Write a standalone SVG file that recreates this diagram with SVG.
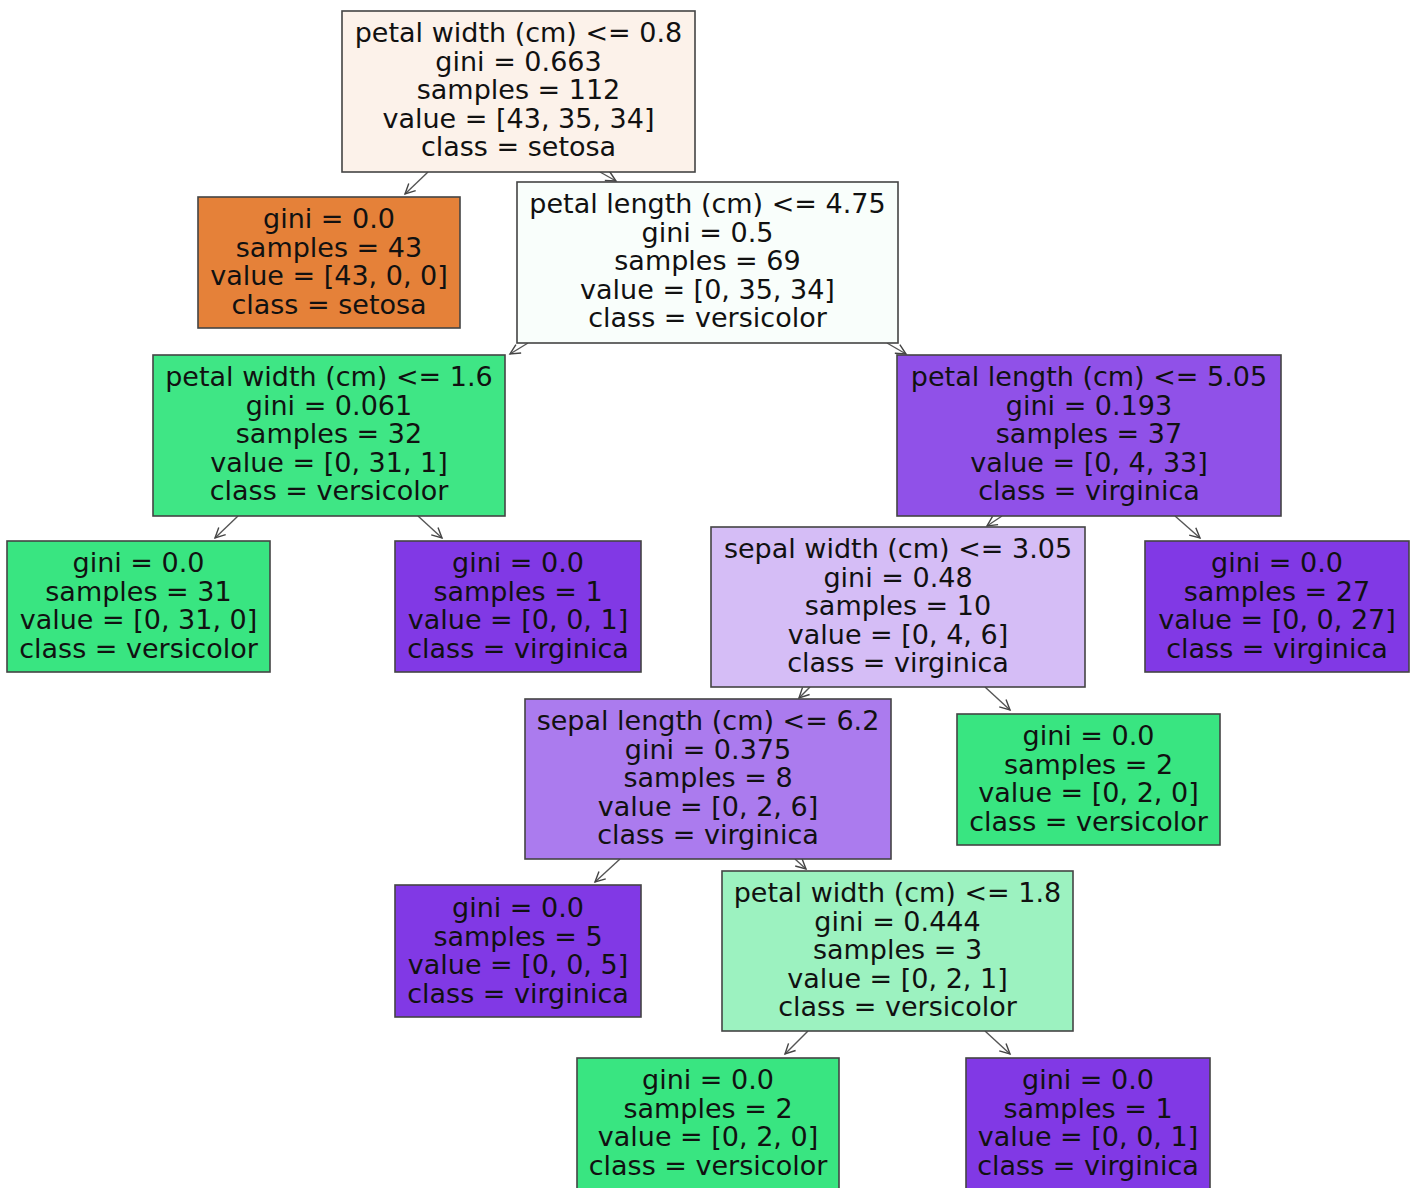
<svg xmlns="http://www.w3.org/2000/svg" width="1416" height="1188" viewBox="0 0 1416 1188">
<defs>
<marker id="arr" markerUnits="userSpaceOnUse" markerWidth="14" markerHeight="14" refX="11" refY="6" orient="auto">
<path d="M1,1 L11,6 L1,11" fill="none" stroke="#444" stroke-width="1.4"/>
</marker>
<style>
rect{stroke:#444;stroke-width:1.6}
text{font-family:"DejaVu Sans","Liberation Sans",sans-serif;font-size:27px;fill:#111;text-anchor:middle}
.e{stroke:#555;stroke-width:1.4;fill:none;marker-end:url(#arr)}
</style>
</defs>
<rect x="0" y="0" width="1416" height="1188" fill="#fff" style="stroke:none"/>
<g id="edges">
<line class="e" x1="428" y1="172" x2="405" y2="194"/>
<line class="e" x1="600" y1="172" x2="616" y2="181"/>
<line class="e" x1="528" y1="343" x2="510" y2="354"/>
<line class="e" x1="887" y1="343" x2="906" y2="354"/>
<line class="e" x1="238" y1="516" x2="215" y2="538"/>
<line class="e" x1="418" y1="516" x2="442" y2="538"/>
<line class="e" x1="1002" y1="516" x2="987" y2="526"/>
<line class="e" x1="1175" y1="516" x2="1200" y2="538"/>
<line class="e" x1="810" y1="687" x2="799" y2="698"/>
<line class="e" x1="985" y1="687" x2="1010" y2="710"/>
<line class="e" x1="620" y1="859" x2="595" y2="882"/>
<line class="e" x1="795" y1="859" x2="806" y2="869"/>
<line class="e" x1="808" y1="1031" x2="785" y2="1054"/>
<line class="e" x1="985" y1="1031" x2="1010" y2="1054"/>
</g>
<g id="n0">
<rect x="342" y="11" width="353" height="161" fill="#fcf2ea"/>
<text x="518.5" y="42">petal width (cm) &lt;= 0.8<tspan x="518.5" dy="28.6">gini = 0.663</tspan><tspan x="518.5" dy="28.6">samples = 112</tspan><tspan x="518.5" dy="28.6">value = [43, 35, 34]</tspan><tspan x="518.5" dy="28.6">class = setosa</tspan></text>
</g>
<g id="n1">
<rect x="198" y="197" width="262" height="131" fill="#e58139"/>
<text x="329" y="228">gini = 0.0<tspan x="329" dy="28.6">samples = 43</tspan><tspan x="329" dy="28.6">value = [43, 0, 0]</tspan><tspan x="329" dy="28.6">class = setosa</tspan></text>
</g>
<g id="n2">
<rect x="517" y="182" width="381" height="161" fill="#f9fefb"/>
<text x="707.5" y="213">petal length (cm) &lt;= 4.75<tspan x="707.5" dy="28.6">gini = 0.5</tspan><tspan x="707.5" dy="28.6">samples = 69</tspan><tspan x="707.5" dy="28.6">value = [0, 35, 34]</tspan><tspan x="707.5" dy="28.6">class = versicolor</tspan></text>
</g>
<g id="n3">
<rect x="153" y="355" width="352" height="161" fill="#3fe685"/>
<text x="329" y="386">petal width (cm) &lt;= 1.6<tspan x="329" dy="28.6">gini = 0.061</tspan><tspan x="329" dy="28.6">samples = 32</tspan><tspan x="329" dy="28.6">value = [0, 31, 1]</tspan><tspan x="329" dy="28.6">class = versicolor</tspan></text>
</g>
<g id="n4">
<rect x="7" y="541" width="263" height="131" fill="#39e581"/>
<text x="138.5" y="572">gini = 0.0<tspan x="138.5" dy="28.6">samples = 31</tspan><tspan x="138.5" dy="28.6">value = [0, 31, 0]</tspan><tspan x="138.5" dy="28.6">class = versicolor</tspan></text>
</g>
<g id="n5">
<rect x="395" y="541" width="246" height="131" fill="#8139e5"/>
<text x="518" y="572">gini = 0.0<tspan x="518" dy="28.6">samples = 1</tspan><tspan x="518" dy="28.6">value = [0, 0, 1]</tspan><tspan x="518" dy="28.6">class = virginica</tspan></text>
</g>
<g id="n6">
<rect x="897" y="355" width="384" height="161" fill="#9051e8"/>
<text x="1089" y="386">petal length (cm) &lt;= 5.05<tspan x="1089" dy="28.6">gini = 0.193</tspan><tspan x="1089" dy="28.6">samples = 37</tspan><tspan x="1089" dy="28.6">value = [0, 4, 33]</tspan><tspan x="1089" dy="28.6">class = virginica</tspan></text>
</g>
<g id="n7">
<rect x="711" y="527" width="374" height="160" fill="#d5bdf6"/>
<text x="898" y="558">sepal width (cm) &lt;= 3.05<tspan x="898" dy="28.6">gini = 0.48</tspan><tspan x="898" dy="28.6">samples = 10</tspan><tspan x="898" dy="28.6">value = [0, 4, 6]</tspan><tspan x="898" dy="28.6">class = virginica</tspan></text>
</g>
<g id="n8">
<rect x="525" y="699" width="366" height="160" fill="#ab7bee"/>
<text x="708" y="730">sepal length (cm) &lt;= 6.2<tspan x="708" dy="28.6">gini = 0.375</tspan><tspan x="708" dy="28.6">samples = 8</tspan><tspan x="708" dy="28.6">value = [0, 2, 6]</tspan><tspan x="708" dy="28.6">class = virginica</tspan></text>
</g>
<g id="n9">
<rect x="395" y="885" width="246" height="132" fill="#8139e5"/>
<text x="518" y="917">gini = 0.0<tspan x="518" dy="28.6">samples = 5</tspan><tspan x="518" dy="28.6">value = [0, 0, 5]</tspan><tspan x="518" dy="28.6">class = virginica</tspan></text>
</g>
<g id="n10">
<rect x="722" y="871" width="351" height="160" fill="#9cf2c0"/>
<text x="897.5" y="902">petal width (cm) &lt;= 1.8<tspan x="897.5" dy="28.6">gini = 0.444</tspan><tspan x="897.5" dy="28.6">samples = 3</tspan><tspan x="897.5" dy="28.6">value = [0, 2, 1]</tspan><tspan x="897.5" dy="28.6">class = versicolor</tspan></text>
</g>
<g id="n11">
<rect x="577" y="1058" width="262" height="132" fill="#39e581"/>
<text x="708" y="1089">gini = 0.0<tspan x="708" dy="28.6">samples = 2</tspan><tspan x="708" dy="28.6">value = [0, 2, 0]</tspan><tspan x="708" dy="28.6">class = versicolor</tspan></text>
</g>
<g id="n12">
<rect x="966" y="1058" width="244" height="132" fill="#8139e5"/>
<text x="1088" y="1089">gini = 0.0<tspan x="1088" dy="28.6">samples = 1</tspan><tspan x="1088" dy="28.6">value = [0, 0, 1]</tspan><tspan x="1088" dy="28.6">class = virginica</tspan></text>
</g>
<g id="n13">
<rect x="957" y="714" width="263" height="131" fill="#39e581"/>
<text x="1088.5" y="745">gini = 0.0<tspan x="1088.5" dy="28.6">samples = 2</tspan><tspan x="1088.5" dy="28.6">value = [0, 2, 0]</tspan><tspan x="1088.5" dy="28.6">class = versicolor</tspan></text>
</g>
<g id="n14">
<rect x="1145" y="541" width="264" height="131" fill="#8139e5"/>
<text x="1277" y="572">gini = 0.0<tspan x="1277" dy="28.6">samples = 27</tspan><tspan x="1277" dy="28.6">value = [0, 0, 27]</tspan><tspan x="1277" dy="28.6">class = virginica</tspan></text>
</g>
</svg>
